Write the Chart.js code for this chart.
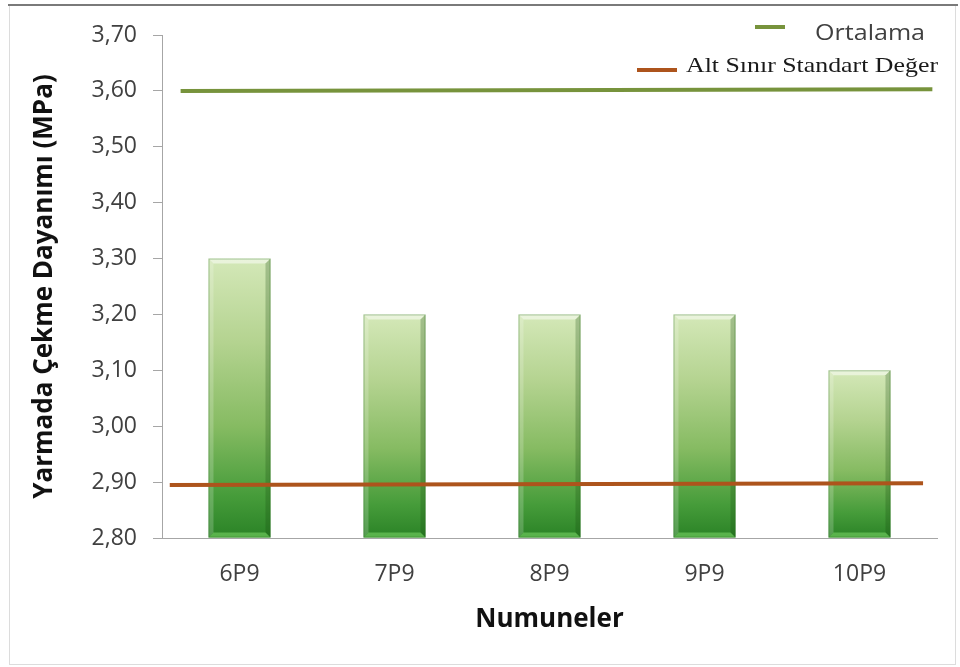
<!DOCTYPE html>
<html>
<head>
<meta charset="utf-8">
<script src="https://cdn.jsdelivr.net/npm/chart.js@4.4.1/dist/chart.umd.min.js"></script>
<style>
  html, body { margin: 0; padding: 0; background: #ffffff; }
  #wrap { position: relative; width: 960px; height: 667px; }
  canvas { display: block; }
</style>
</head>
<body>
<div id="wrap"><canvas id="c" width="960" height="667"></canvas></div>
<script>
// Samples and measured splitting tensile strength (MPa)
const numuneler = ['6P9', '7P9', '8P9', '9P9', '10P9'];
const dayanim = [3.30, 3.20, 3.20, 3.20, 3.10];

// Reference lines: value at each end, and horizontal span in category units
const ortalamaDeger = [3.600, 3.603];
const ortalamaSpan = [0.12, 4.97];
const altSinirDeger = [2.895, 2.898];
const altSinirSpan = [0.05, 4.91];

// Y axis range
const yMin = 2.80, yMax = 3.70, yStep = 0.10;

const sansFamily = '"Open Sans", Lato, sans-serif';

const legendItems = [
  { text: 'Ortalama', color: '#77933c', font: '22px "Open Sans", sans-serif', textColor: '#404040', stretch: 1.14 },
  { text: 'Alt Sınır Standart Değer', color: '#ad541c', font: '22px "Liberation Serif", "DejaVu Serif", serif', textColor: '#1a1a1a', stretch: 1.175 }
];

const toPts = (span, vals) => span.map((x, i) => ({ x: x, y: vals[i] }));

// Outer frame of the figure
const framePlugin = {
  id: 'frame',
  beforeDraw(chart) {
    const c = chart.ctx;
    c.save();
    c.fillStyle = '#ffffff';
    c.fillRect(0, 0, chart.width, chart.height);
    c.strokeStyle = '#dcdcdc';
    c.lineWidth = 1;
    c.strokeRect(9.5, 5.5, 946, 659);
    c.strokeStyle = '#7a7a7a';
    c.lineWidth = 2;
    c.beginPath();
    c.moveTo(8, 5);
    c.lineTo(958, 5);
    c.stroke();
    c.restore();
  }
};

// Bevel highlights on the bars
const bevelPlugin = {
  id: 'bevel',
  afterDatasetDraw(chart, args) {
    if (args.index !== 0) return;
    const c = chart.ctx;
    const meta = chart.getDatasetMeta(0);
    const area = chart.chartArea;
    c.save();
    meta.data.forEach(bar => {
      const p = bar.getProps(['x', 'y', 'base', 'width'], true);
      const l = p.x - p.width / 2, r = p.x + p.width / 2;
      const t = p.y, b = Math.min(p.base, area.bottom), w = p.width;
      const bev = 5;
      // top bevel (light)
      c.fillStyle = 'rgba(255,255,255,0.5)';
      c.beginPath();
      c.moveTo(l, t); c.lineTo(r, t); c.lineTo(r - bev, t + bev); c.lineTo(l + bev, t + bev); c.closePath();
      c.fill();
      // left bevel
      c.fillStyle = 'rgba(255,255,255,0.2)';
      c.beginPath();
      c.moveTo(l, t); c.lineTo(l + bev, t + bev); c.lineTo(l + bev, b - bev); c.lineTo(l, b); c.closePath();
      c.fill();
      // right bevel (shade)
      c.fillStyle = 'rgba(20,70,10,0.25)';
      c.beginPath();
      c.moveTo(r, t); c.lineTo(r - bev, t + bev); c.lineTo(r - bev, b - bev); c.lineTo(r, b); c.closePath();
      c.fill();
      // bottom bevel (light green)
      c.fillStyle = 'rgba(120,210,100,0.6)';
      c.beginPath();
      c.moveTo(l, b); c.lineTo(l + bev, b - bev); c.lineTo(r - bev, b - bev); c.lineTo(r, b); c.closePath();
      c.fill();
      c.strokeStyle = 'rgba(40,110,30,0.35)';
      c.lineWidth = 1;
      c.strokeRect(l + 0.5, t + 0.5, w - 1, b - t - 1);
    });
    c.restore();
  }
};

// Legend drawn in the top-right corner
const legendPlugin = {
  id: 'cornerLegend',
  afterDraw(chart) {
    const c = chart.ctx;
    const drawText = (item, x, y) => {
      c.save();
      c.font = item.font;
      c.fillStyle = item.textColor;
      c.textBaseline = 'middle';
      c.textAlign = 'left';
      c.translate(x, y);
      c.scale(item.stretch, 1);
      c.fillText(item.text, 0, 0);
      c.restore();
    };
    c.save();
    c.lineWidth = 4;
    // Ortalama
    c.strokeStyle = legendItems[0].color;
    c.beginPath(); c.moveTo(755, 27); c.lineTo(785, 27); c.stroke();
    drawText(legendItems[0], 815, 34);
    // Alt Sınır Standart Değer
    c.strokeStyle = legendItems[1].color;
    c.beginPath(); c.moveTo(637, 70); c.lineTo(677, 70); c.stroke();
    drawText(legendItems[1], 686, 66);
    c.restore();
  }
};

function barFill(ctx) {
  const chart = ctx.chart;
  const ys = chart.scales.y;
  if (!ys || ctx.raw === undefined) return '#8fbf60';
  const top = ys.getPixelForValue(ctx.raw);
  const bottom = ys.getPixelForValue(ys.min);
  if (!isFinite(top) || !isFinite(bottom) || bottom <= top) return '#8fbf60';
  const g = chart.ctx.createLinearGradient(0, top, 0, bottom);
  g.addColorStop(0, '#d4e8b8');
  g.addColorStop(0.3, '#b4d390');
  g.addColorStop(0.6, '#86bb62');
  g.addColorStop(0.85, '#469c3a');
  g.addColorStop(1, '#2a8226');
  return g;
}

const axisGray = '#a6a6a6';
const tickColor = '#404040';

new Chart(document.getElementById('c'), {
  type: 'bar',
  data: {
    labels: numuneler,
    datasets: [
      {
        type: 'bar',
        label: 'Yarmada Çekme Dayanımı',
        data: dayanim,
        backgroundColor: barFill,
        borderWidth: 0,
        base: yMin,
        grouped: false,
        categoryPercentage: 1.0,
        barPercentage: 0.4,
        xAxisID: 'x',
        yAxisID: 'y',
        order: 2
      },
      {
        type: 'line',
        label: 'Ortalama',
        data: toPts(ortalamaSpan, ortalamaDeger),
        borderColor: '#77933c',
        borderWidth: 4,
        pointRadius: 0,
        fill: false,
        xAxisID: 'xl',
        yAxisID: 'y',
        order: 0
      },
      {
        type: 'line',
        label: 'Alt Sınır Standart Değer',
        data: toPts(altSinirSpan, altSinirDeger),
        borderColor: '#ad541c',
        borderWidth: 4,
        pointRadius: 0,
        fill: false,
        xAxisID: 'xl',
        yAxisID: 'y',
        order: 1
      }
    ]
  },
  options: {
    responsive: false,
    animation: false,
    events: [],
    layout: { padding: { left: 0, top: 35, right: 23, bottom: 0 } },
    plugins: {
      legend: { display: false },
      tooltip: { enabled: false }
    },
    scales: {
      x: {
        type: 'category',
        offset: true,
        grid: { display: false, drawTicks: false },
        border: { display: true, color: axisGray, width: 1 },
        ticks: {
          color: tickColor,
          font: { family: sansFamily, size: 23 },
          padding: 23,
          maxRotation: 0
        },
        title: {
          display: true,
          text: 'Numuneler',
          color: '#111111',
          font: { family: sansFamily, size: 26, weight: 'bold' },
          padding: { top: 0, bottom: 32 }
        },
        afterFit(scale) { scale.height = 129; }
      },
      xl: {
        type: 'linear',
        display: false,
        offset: false,
        min: 0,
        max: 5
      },
      y: {
        type: 'linear',
        min: yMin,
        max: yMax,
        grid: {
          display: true,
          drawOnChartArea: false,
          drawTicks: true,
          tickLength: 9,
          color: axisGray
        },
        border: { display: true, color: axisGray, width: 1 },
        ticks: {
          stepSize: yStep,
          color: tickColor,
          font: { family: sansFamily, size: 23 },
          padding: 16,
          callback: v => v.toFixed(2).replace('.', ',')
        },
        title: {
          display: true,
          text: 'Yarmada Çekme Dayanımı (MPa)',
          color: '#111111',
          font: { family: sansFamily, size: 26, weight: 'bold' },
          padding: { top: 29, bottom: 0 }
        },
        afterFit(scale) { scale.width = 162; }
      }
    }
  },
  plugins: [framePlugin, bevelPlugin, legendPlugin]
});
</script>
</body>
</html>
